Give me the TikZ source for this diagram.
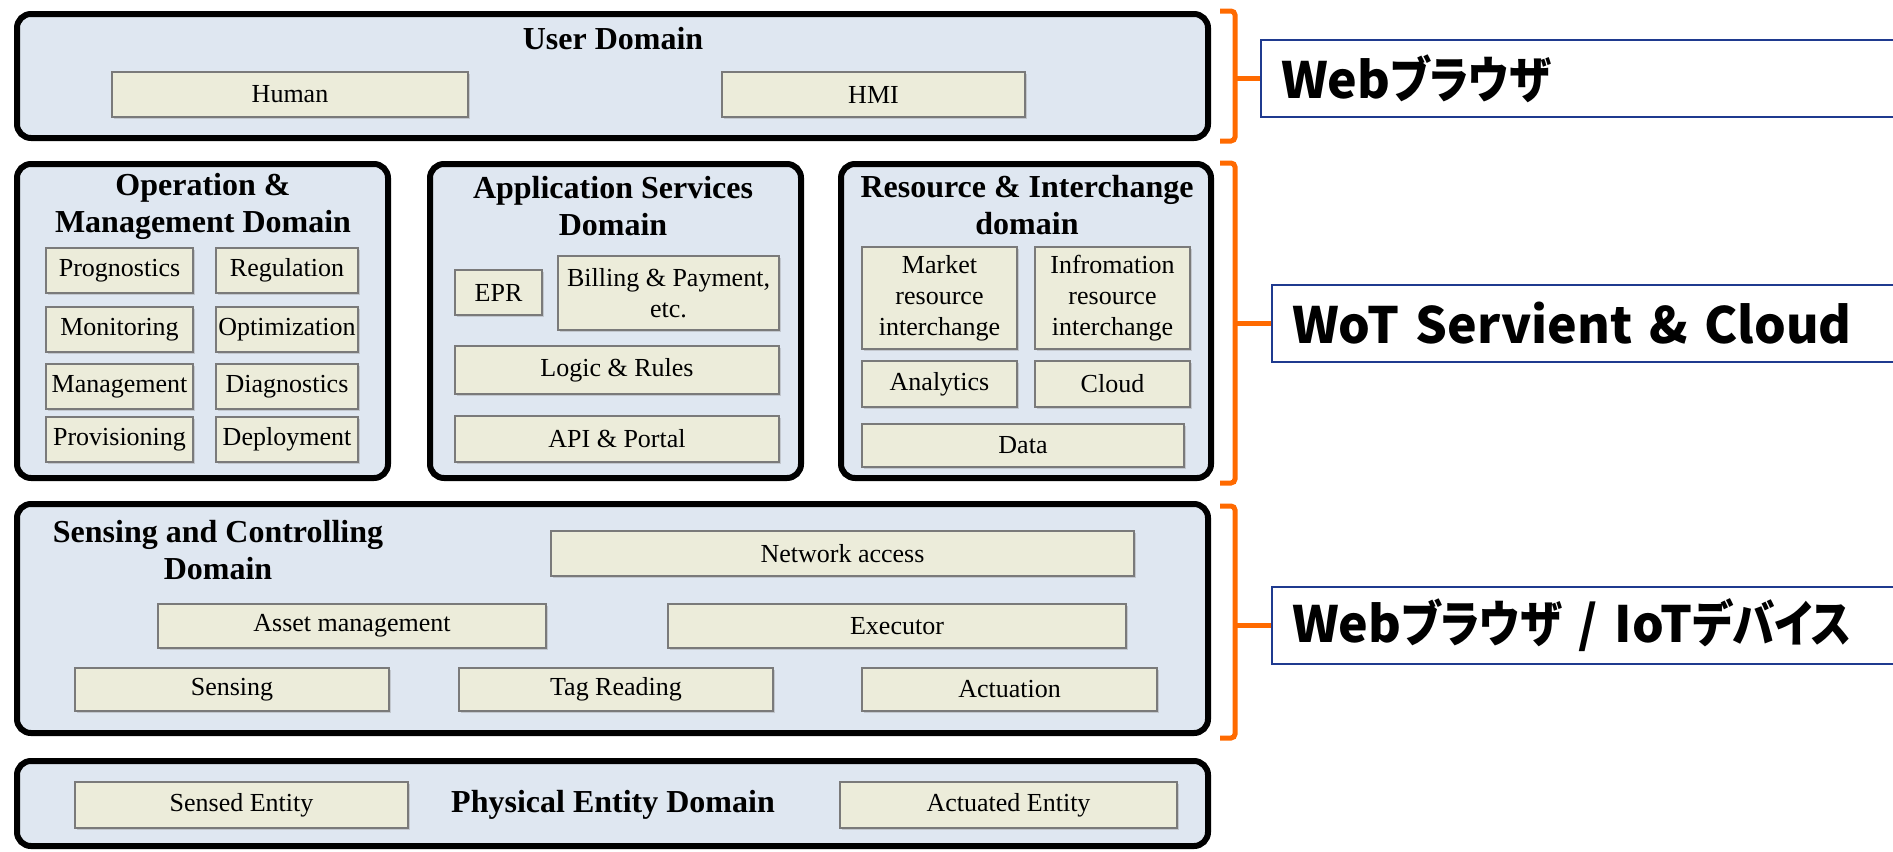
\documentclass[tikz,border=0pt]{standalone}
\usepackage{fontspec}
\usepackage{graphicx}
\setmainfont{Liberation Serif}
\newfontfamily\jpfont[RawFeature=+palt]{Noto Sans CJK JP}
\newcommand{\kana}[1]{\scalebox{0.85}[1]{#1}}
\usetikzlibrary{shadows}
\definecolor{domainfill}{HTML}{DFE7F1}
\definecolor{unitfill}{HTML}{ECECDA}
\definecolor{unitline}{HTML}{7A7A7A}
\definecolor{bracecol}{HTML}{FF6A00}
\definecolor{tagline}{HTML}{1F3A8F}
\begin{document}
\begin{tikzpicture}[x=0.5pt,y=-0.5pt]
	\tikzset{domainbox/.style = {draw=black,line width=3pt,rounded corners=7pt,fill=domainfill,inner sep=0pt}}
	\tikzset{unitbox/.style = {draw=unitline,line width=0.7pt,fill=unitfill,inner sep=1pt,align=center,
		drop shadow={shadow xshift=0.8pt,shadow yshift=-0.8pt,opacity=0.3},font=\fontsize{13}{15.5}\selectfont}}
	\tikzset{domaintitle/.style = {align=center,font=\bfseries\fontsize{16}{18.5}\selectfont}}
	\tikzset{tagbox/.style = {draw=tagline,line width=1pt,fill=white,anchor=west,minimum height=38.5pt,
		text width=400pt,inner xsep=10pt,align=left,font=\jpfont\bfseries\fontsize{25}{30}\selectfont}}
	\tikzset{brace/.style = {draw=bracecol,line width=2.5pt,rounded corners=2pt}}
	\useasboundingbox (0,0) rectangle (1893,851);

	% domain frames
	\node[domainbox,minimum width=595.5pt,minimum height=62pt] (user) at (612.5,76) {};
	\node[domainbox,minimum width=185.5pt,minimum height=157pt] (oper) at (202.5,321) {};
	\node[domainbox,minimum width=185.5pt,minimum height=157pt] (apps) at (615.5,321) {};
	\node[domainbox,minimum width=185pt,minimum height=157pt] (resx) at (1026,321) {};
	\node[domainbox,minimum width=595.5pt,minimum height=114.5pt] (sens) at (612.5,618.5) {};
	\node[domainbox,minimum width=595.5pt,minimum height=42.5pt] (phys) at (612.5,803.5) {};

	% titles
	\node[domaintitle] (usert) at (613,39) {User Domain};
	\node[domaintitle] (opert) at (203,206) {Operation \&\\Management Domain};
	\node[domaintitle] (appst) at (613,206) {Application Services\\Domain};
	\node[domaintitle] (resxt) at (1027,205) {Resource \& Interchange\\domain};
	\node[domaintitle] (senst) at (218,550) {Sensing and Controlling\\Domain};
	\node[domaintitle] (physt) at (613,805) {Physical Entity Domain};

	% user domain
	\node[unitbox,minimum width=178pt,minimum height=22.5pt] (human) at (290,94.5) {Human};
	\node[unitbox,minimum width=151.5pt,minimum height=22.5pt] (hmi) at (873.5,94.5) {HMI};

	% operation & management
	\node[unitbox,minimum width=73.5pt,minimum height=22.5pt] (progn) at (119.5,270.5) {Prognostics};
	\node[unitbox,minimum width=71pt,minimum height=22.5pt] (regul) at (287,270.5) {Regulation};
	\node[unitbox,minimum width=73.5pt,minimum height=22.5pt] (monit) at (119.5,329.5) {Monitoring};
	\node[unitbox,minimum width=71pt,minimum height=22.5pt] (optim) at (287,329.5) {Optimization};
	\node[unitbox,minimum width=73.5pt,minimum height=22.5pt] (manag) at (119.5,386.5) {Management};
	\node[unitbox,minimum width=71pt,minimum height=22.5pt] (diagn) at (287,386.5) {Diagnostics};
	\node[unitbox,minimum width=73.5pt,minimum height=22.5pt] (provi) at (119.5,439.5) {Provisioning};
	\node[unitbox,minimum width=71pt,minimum height=22.5pt] (deplo) at (287,439.5) {Deployment};

	% application services
	\node[unitbox,minimum width=43.5pt,minimum height=22.5pt] (epr) at (498.5,292.5) {EPR};
	\node[unitbox,minimum width=110.5pt,minimum height=37pt] (billing) at (668.5,293) {Billing \& Payment,\\etc.};
	\node[unitbox,minimum width=162pt,minimum height=24pt] (logic) at (617,370) {Logic \& Rules};
	\node[unitbox,minimum width=162pt,minimum height=23pt] (api) at (617,439) {API \& Portal};

	% resource & interchange
	\node[unitbox,minimum width=77.5pt,minimum height=51pt] (market) at (939.5,298) {Market\\resource\\interchange};
	\node[unitbox,minimum width=77.5pt,minimum height=51pt] (inform) at (1112.5,298) {Infromation\\resource\\interchange};
	\node[unitbox,minimum width=77.5pt,minimum height=23pt] (analyt) at (939.5,384) {Analytics};
	\node[unitbox,minimum width=77.5pt,minimum height=23pt] (cloud) at (1112.5,384) {Cloud};
	\node[unitbox,minimum width=161pt,minimum height=21.5pt] (data) at (1023,445.5) {Data};

	% sensing and controlling
	\node[unitbox,minimum width=291.5pt,minimum height=22.5pt] (netacc) at (842.5,553.5) {Network access};
	\node[unitbox,minimum width=194pt,minimum height=22pt] (asset) at (352,626) {Asset management};
	\node[unitbox,minimum width=229pt,minimum height=22pt] (exec) at (897,626) {Executor};
	\node[unitbox,minimum width=157pt,minimum height=21.5pt] (sensing) at (232,689.5) {Sensing};
	\node[unitbox,minimum width=157pt,minimum height=21.5pt] (tagread) at (616,689.5) {Tag Reading};
	\node[unitbox,minimum width=147.5pt,minimum height=21.5pt] (actua) at (1009.5,689.5) {Actuation};

	% physical entity
	\node[unitbox,minimum width=166.5pt,minimum height=23pt] (sensed) at (241.5,805) {Sensed Entity};
	\node[unitbox,minimum width=168.5pt,minimum height=23pt] (actuated) at (1008.5,805) {Actuated Entity};

	% layer tags on the right
	\node[tagbox] (tagweb) at (1260,78.5) {Web\kana{ブラウザ}};
	\node[tagbox] (tagwot) at (1271,323.5) {WoT Servient \& Cloud};
	\node[tagbox] (tagdev) at (1271,625.5) {Web\kana{ブラウザ} / IoT\kana{デバイス}};

	\coordinate (bweb) at (1235,78.5);
	\coordinate (bwot) at (1235,323.5);
	\coordinate (bdev) at (1235,625.5);
	\draw[brace] (1220,11) -- (1235,11) -- (1235,141) -- (1220,141);
	\draw[brace] (1220,163) -- (1235,163) -- (1235,483) -- (1220,483);
	\draw[brace] (1220,506) -- (1235,506) -- (1235,738) -- (1220,738);
	\draw[brace] (bweb) -- (tagweb.west);
	\draw[brace] (bwot) -- (tagwot.west);
	\draw[brace] (bdev) -- (tagdev.west);
\end{tikzpicture}
\end{document}
